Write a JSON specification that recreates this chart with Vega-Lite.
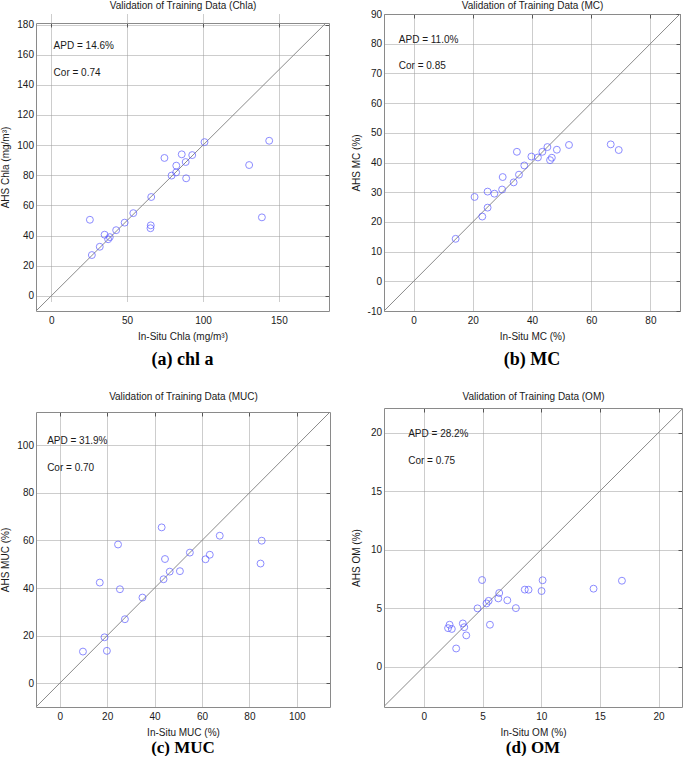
{
  "$schema": "https://vega.github.io/schema/vega-lite/v6.json",
  "padding": 0,
  "background": "white",
  "datasets": {
    "diag": [{"v": -20}, {"v": 200}],
    "diagA": [{"v": -20}, {"v": 181}],
    "chla": [
      {"insitu": 25.5, "ahs": 50.5}, {"insitu": 26.8, "ahs": 27.1}, {"insitu": 32.0, "ahs": 32.6}, {"insitu": 35.2, "ahs": 40.6},
      {"insitu": 37.5, "ahs": 37.6}, {"insitu": 38.6, "ahs": 39.0}, {"insitu": 42.8, "ahs": 43.6}, {"insitu": 48.4, "ahs": 48.6},
      {"insitu": 54.1, "ahs": 54.9}, {"insitu": 65.4, "ahs": 44.9}, {"insitu": 65.6, "ahs": 46.8}, {"insitu": 65.9, "ahs": 65.6},
      {"insitu": 74.6, "ahs": 91.5}, {"insitu": 79.3, "ahs": 79.8}, {"insitu": 82.3, "ahs": 81.9}, {"insitu": 82.4, "ahs": 86.4},
      {"insitu": 86.0, "ahs": 93.9}, {"insitu": 88.6, "ahs": 88.8}, {"insitu": 88.9, "ahs": 78.0}, {"insitu": 92.9, "ahs": 93.4},
      {"insitu": 101.0, "ahs": 102.0}, {"insitu": 130.4, "ahs": 86.8}, {"insitu": 138.8, "ahs": 52.1}, {"insitu": 143.6, "ahs": 102.9}
    ],
    "mc": [
      {"insitu": 14.2, "ahs": 14.3}, {"insitu": 20.6, "ahs": 28.4}, {"insitu": 23.2, "ahs": 21.8}, {"insitu": 25.0, "ahs": 30.2},
      {"insitu": 25.0, "ahs": 24.8}, {"insitu": 27.3, "ahs": 29.5}, {"insitu": 29.9, "ahs": 30.9}, {"insitu": 30.1, "ahs": 35.1},
      {"insitu": 33.8, "ahs": 33.3}, {"insitu": 34.9, "ahs": 43.6}, {"insitu": 35.6, "ahs": 35.9}, {"insitu": 37.4, "ahs": 39.0},
      {"insitu": 39.8, "ahs": 42.0}, {"insitu": 42.0, "ahs": 41.7}, {"insitu": 43.5, "ahs": 43.6}, {"insitu": 45.2, "ahs": 45.2},
      {"insitu": 46.1, "ahs": 40.8}, {"insitu": 46.7, "ahs": 41.6}, {"insitu": 48.4, "ahs": 44.3}, {"insitu": 52.5, "ahs": 45.9},
      {"insitu": 66.6, "ahs": 46.1}, {"insitu": 69.3, "ahs": 44.2}
    ],
    "muc": [
      {"insitu": 9.8, "ahs": 13.3}, {"insitu": 16.9, "ahs": 42.3}, {"insitu": 18.9, "ahs": 19.3}, {"insitu": 19.9, "ahs": 13.6},
      {"insitu": 24.6, "ahs": 58.3}, {"insitu": 25.4, "ahs": 39.5}, {"insitu": 27.5, "ahs": 26.9}, {"insitu": 34.9, "ahs": 36.0},
      {"insitu": 43.0, "ahs": 65.5}, {"insitu": 43.8, "ahs": 43.7}, {"insitu": 44.4, "ahs": 52.2}, {"insitu": 46.4, "ahs": 46.9},
      {"insitu": 50.7, "ahs": 47.1}, {"insitu": 54.9, "ahs": 54.9}, {"insitu": 61.5, "ahs": 52.1}, {"insitu": 63.3, "ahs": 54.0},
      {"insitu": 67.5, "ahs": 62.0}, {"insitu": 84.7, "ahs": 50.3}, {"insitu": 85.2, "ahs": 59.9}
    ],
    "om": [
      {"insitu": 2.06, "ahs": 3.29}, {"insitu": 2.19, "ahs": 3.58}, {"insitu": 2.38, "ahs": 3.22}, {"insitu": 2.75, "ahs": 1.55},
      {"insitu": 3.32, "ahs": 3.69}, {"insitu": 3.44, "ahs": 3.37}, {"insitu": 3.61, "ahs": 2.67}, {"insitu": 4.57, "ahs": 4.98},
      {"insitu": 4.96, "ahs": 7.40}, {"insitu": 5.34, "ahs": 5.40}, {"insitu": 5.52, "ahs": 5.62}, {"insitu": 5.63, "ahs": 3.58},
      {"insitu": 6.34, "ahs": 5.83}, {"insitu": 6.42, "ahs": 6.29}, {"insitu": 7.11, "ahs": 5.67}, {"insitu": 7.84, "ahs": 5.00},
      {"insitu": 8.60, "ahs": 6.58}, {"insitu": 8.92, "ahs": 6.57}, {"insitu": 10.03, "ahs": 6.46}, {"insitu": 10.12, "ahs": 7.38},
      {"insitu": 14.46, "ahs": 6.66}, {"insitu": 16.88, "ahs": 7.34}
    ]
  },
  "concat": [
    {
      "width": 293, "height": 297,
      "title": {"text": "(a) chl a"},
      "layer": [
        {"data": {"name": "diagA"}, "mark": {"type": "line", "color": "#8a8a8a", "strokeWidth": 1, "clip": true},
         "encoding": {
           "x": {"field": "v", "type": "quantitative", "scale": {"domain": [-10, 183], "nice": false, "zero": false},
                 "axis": {"orient": "top", "offset": -9, "title": "Validation of Training Data (Chla)", "labels": false, "grid": false, "tickSize": -4, "values": [0, 50, 100, 150], "titlePadding": 12}},
           "y": {"field": "v", "type": "quantitative", "scale": {"domain": [-10, 181], "range": [297, 9], "nice": false, "zero": false},
                 "axis": {"orient": "right", "title": null, "labels": false, "grid": false, "tickSize": -4, "values": [0, 20, 40, 60, 80, 100, 120, 140, 160, 180]}}}},
        {"data": {"name": "chla"}, "mark": {"type": "point", "shape": "circle", "filled": false, "size": 48, "color": "#5b5bff", "strokeWidth": 1},
         "encoding": {
           "x": {"field": "insitu", "type": "quantitative", "scale": {"domain": [-10, 183], "nice": false, "zero": false},
                 "axis": {"orient": "bottom", "title": "In-Situ Chla (mg/m³)", "grid": true, "ticks": false, "labelPadding": 4, "values": [0, 50, 100, 150]}},
           "y": {"field": "ahs", "type": "quantitative", "scale": {"domain": [-10, 181], "range": [297, 9], "nice": false, "zero": false},
                 "axis": {"orient": "left", "title": "AHS Chla (mg/m³)", "grid": true, "ticks": false, "labelPadding": 2.5, "values": [0, 20, 40, 60, 80, 100, 120, 140, 160, 180]}}}},
        {"data": {"values": [{"t": "APD = 14.6%"}]}, "mark": {"type": "text", "align": "left", "baseline": "middle", "font": "Liberation Sans", "fontSize": 10, "color": "#1a1a1a"},
         "encoding": {
           "x": {"datum": 1.6, "type": "quantitative", "scale": {"domain": [-10, 183], "nice": false, "zero": false}, "axis": null},
           "y": {"datum": 165.6, "type": "quantitative", "scale": {"domain": [-10, 181], "range": [297, 9], "nice": false, "zero": false}, "axis": null},
           "text": {"field": "t"}}},
        {"data": {"values": [{"t": "Cor = 0.74"}]}, "mark": {"type": "text", "align": "left", "baseline": "middle", "font": "Liberation Sans", "fontSize": 10, "color": "#1a1a1a"},
         "encoding": {
           "x": {"datum": 1.6, "type": "quantitative", "scale": {"domain": [-10, 183], "nice": false, "zero": false}, "axis": null},
           "y": {"datum": 147.6, "type": "quantitative", "scale": {"domain": [-10, 181], "range": [297, 9], "nice": false, "zero": false}, "axis": null},
           "text": {"field": "t"}}}
      ],
      "resolve": {"axis": {"x": "independent", "y": "independent"}}
    },
    {
      "width": 296, "height": 297,
      "title": {"text": "(b) MC"},
      "layer": [
        {"data": {"name": "diag"}, "mark": {"type": "line", "color": "#8a8a8a", "strokeWidth": 1, "clip": true},
         "encoding": {
           "x": {"field": "v", "type": "quantitative", "scale": {"domain": [-10, 90], "nice": false, "zero": false},
                 "axis": {"orient": "top", "title": "Validation of Training Data (MC)", "labels": false, "grid": false, "tickSize": -4, "values": [0, 20, 40, 60, 80], "titlePadding": 3}},
           "y": {"field": "v", "type": "quantitative", "scale": {"domain": [-10, 90], "nice": false, "zero": false},
                 "axis": {"orient": "right", "title": null, "labels": false, "grid": false, "tickSize": -4, "values": [-10, 0, 10, 20, 30, 40, 50, 60, 70, 80, 90]}}}},
        {"data": {"name": "mc"}, "mark": {"type": "point", "shape": "circle", "filled": false, "size": 48, "color": "#5b5bff", "strokeWidth": 1},
         "encoding": {
           "x": {"field": "insitu", "type": "quantitative", "scale": {"domain": [-10, 90], "nice": false, "zero": false},
                 "axis": {"orient": "bottom", "title": "In-Situ MC (%)", "grid": true, "ticks": false, "labelPadding": 4, "values": [0, 20, 40, 60, 80]}},
           "y": {"field": "ahs", "type": "quantitative", "scale": {"domain": [-10, 90], "nice": false, "zero": false},
                 "axis": {"orient": "left", "title": "AHS MC (%)", "grid": true, "ticks": false, "labelPadding": 2.5, "values": [-10, 0, 10, 20, 30, 40, 50, 60, 70, 80, 90], "labelExpr": "replace(datum.label, '−', '-')"}}}},
        {"data": {"values": [{"t": "APD = 11.0%"}]}, "mark": {"type": "text", "align": "left", "baseline": "middle", "font": "Liberation Sans", "fontSize": 10, "color": "#1a1a1a"},
         "encoding": {
           "x": {"datum": -5.0, "type": "quantitative", "scale": {"domain": [-10, 90], "nice": false, "zero": false}, "axis": null},
           "y": {"datum": 81.4, "type": "quantitative", "scale": {"domain": [-10, 90], "nice": false, "zero": false}, "axis": null},
           "text": {"field": "t"}}},
        {"data": {"values": [{"t": "Cor = 0.85"}]}, "mark": {"type": "text", "align": "left", "baseline": "middle", "font": "Liberation Sans", "fontSize": 10, "color": "#1a1a1a"},
         "encoding": {
           "x": {"datum": -5.0, "type": "quantitative", "scale": {"domain": [-10, 90], "nice": false, "zero": false}, "axis": null},
           "y": {"datum": 72.4, "type": "quantitative", "scale": {"domain": [-10, 90], "nice": false, "zero": false}, "axis": null},
           "text": {"field": "t"}}}
      ],
      "resolve": {"axis": {"x": "independent", "y": "independent"}}
    },
    {
      "width": 294, "height": 295,
      "title": {"text": "(c) MUC", "offset": 3, "fontSize": 17},
      "layer": [
        {"data": {"name": "diag"}, "mark": {"type": "line", "color": "#8a8a8a", "strokeWidth": 1, "clip": true},
         "encoding": {
           "x": {"field": "v", "type": "quantitative", "scale": {"domain": [-10, 114], "nice": false, "zero": false},
                 "axis": {"orient": "top", "title": "Validation of Training Data (MUC)", "labels": false, "grid": false, "tickSize": -4, "values": [0, 20, 40, 60, 80, 100], "titlePadding": 10.4}},
           "y": {"field": "v", "type": "quantitative", "scale": {"domain": [-10, 114], "nice": false, "zero": false},
                 "axis": {"orient": "right", "title": null, "labels": false, "grid": false, "tickSize": -4, "values": [0, 20, 40, 60, 80, 100]}}}},
        {"data": {"name": "muc"}, "mark": {"type": "point", "shape": "circle", "filled": false, "size": 48, "color": "#5b5bff", "strokeWidth": 1},
         "encoding": {
           "x": {"field": "insitu", "type": "quantitative", "scale": {"domain": [-10, 114], "nice": false, "zero": false},
                 "axis": {"orient": "bottom", "title": "In-Situ MUC (%)", "grid": true, "ticks": false, "labelPadding": 4, "values": [0, 20, 40, 60, 80, 100]}},
           "y": {"field": "ahs", "type": "quantitative", "scale": {"domain": [-10, 114], "nice": false, "zero": false},
                 "axis": {"orient": "left", "title": "AHS MUC (%)", "grid": true, "ticks": false, "labelPadding": 2.5, "values": [0, 20, 40, 60, 80, 100]}}}},
        {"data": {"values": [{"t": "APD = 31.9%"}]}, "mark": {"type": "text", "align": "left", "baseline": "middle", "font": "Liberation Sans", "fontSize": 10, "color": "#1a1a1a"},
         "encoding": {
           "x": {"datum": -5.3, "type": "quantitative", "scale": {"domain": [-10, 114], "nice": false, "zero": false}, "axis": null},
           "y": {"datum": 101.9, "type": "quantitative", "scale": {"domain": [-10, 114], "nice": false, "zero": false}, "axis": null},
           "text": {"field": "t"}}},
        {"data": {"values": [{"t": "Cor = 0.70"}]}, "mark": {"type": "text", "align": "left", "baseline": "middle", "font": "Liberation Sans", "fontSize": 10, "color": "#1a1a1a"},
         "encoding": {
           "x": {"datum": -5.3, "type": "quantitative", "scale": {"domain": [-10, 114], "nice": false, "zero": false}, "axis": null},
           "y": {"datum": 90.6, "type": "quantitative", "scale": {"domain": [-10, 114], "nice": false, "zero": false}, "axis": null},
           "text": {"field": "t"}}}
      ],
      "resolve": {"axis": {"x": "independent", "y": "independent"}}
    },
    {
      "width": 298, "height": 299,
      "title": {"text": "(d) OM", "offset": 3, "fontSize": 17},
      "layer": [
        {"data": {"name": "diag"}, "mark": {"type": "line", "color": "#8a8a8a", "strokeWidth": 1, "clip": true},
         "encoding": {
           "x": {"field": "v", "type": "quantitative", "scale": {"domain": [-3.4, 22], "nice": false, "zero": false},
                 "axis": {"orient": "top", "title": "Validation of Training Data (OM)", "labels": false, "grid": false, "tickSize": -4, "values": [0, 5, 10, 15, 20], "titlePadding": 6}},
           "y": {"field": "v", "type": "quantitative", "scale": {"domain": [-3.45, 22.1], "nice": false, "zero": false},
                 "axis": {"orient": "right", "title": null, "labels": false, "grid": false, "tickSize": -4, "values": [0, 5, 10, 15, 20]}}}},
        {"data": {"name": "om"}, "mark": {"type": "point", "shape": "circle", "filled": false, "size": 48, "color": "#5b5bff", "strokeWidth": 1},
         "encoding": {
           "x": {"field": "insitu", "type": "quantitative", "scale": {"domain": [-3.4, 22], "nice": false, "zero": false},
                 "axis": {"orient": "bottom", "title": "In-Situ OM (%)", "grid": true, "ticks": false, "labelPadding": 4, "values": [0, 5, 10, 15, 20]}},
           "y": {"field": "ahs", "type": "quantitative", "scale": {"domain": [-3.45, 22.1], "nice": false, "zero": false},
                 "axis": {"orient": "left", "title": "AHS OM (%)", "grid": true, "ticks": false, "labelPadding": 2.5, "titlePadding": 9, "values": [0, 5, 10, 15, 20]}}}},
        {"data": {"values": [{"t": "APD = 28.2%"}]}, "mark": {"type": "text", "align": "left", "baseline": "middle", "font": "Liberation Sans", "fontSize": 10, "color": "#1a1a1a"},
         "encoding": {
           "x": {"datum": -1.34, "type": "quantitative", "scale": {"domain": [-3.4, 22], "nice": false, "zero": false}, "axis": null},
           "y": {"datum": 19.86, "type": "quantitative", "scale": {"domain": [-3.45, 22.1], "nice": false, "zero": false}, "axis": null},
           "text": {"field": "t"}}},
        {"data": {"values": [{"t": "Cor = 0.75"}]}, "mark": {"type": "text", "align": "left", "baseline": "middle", "font": "Liberation Sans", "fontSize": 10, "color": "#1a1a1a"},
         "encoding": {
           "x": {"datum": -1.34, "type": "quantitative", "scale": {"domain": [-3.4, 22], "nice": false, "zero": false}, "axis": null},
           "y": {"datum": 17.6, "type": "quantitative", "scale": {"domain": [-3.45, 22.1], "nice": false, "zero": false}, "axis": null},
           "text": {"field": "t"}}}
      ],
      "resolve": {"axis": {"x": "independent", "y": "independent"}}
    }
  ],
  "columns": 2,
  "align": "none",
  "spacing": {"row": 22, "column": 20},
  "config": {
    "view": {"stroke": null},
    "axis": {
      "labelFont": "Liberation Sans", "labelFontSize": 10, "labelColor": "#1a1a1a",
      "titleFont": "Liberation Sans", "titleFontSize": 10, "titleFontWeight": "normal", "titleColor": "#1a1a1a",
      "domain": true, "domainColor": "#8a8a8a", "domainWidth": 1,
      "gridColor": "#9a9a9a", "gridDash": [1, 1], "gridOpacity": 1, "gridWidth": 1,
      "tickColor": "#555555", "tickWidth": 1, "titlePadding": 6
    },
    "title": {"font": "Liberation Serif", "fontSize": 18, "fontWeight": "bold", "color": "#000000", "orient": "bottom", "offset": 10}
  }
}
